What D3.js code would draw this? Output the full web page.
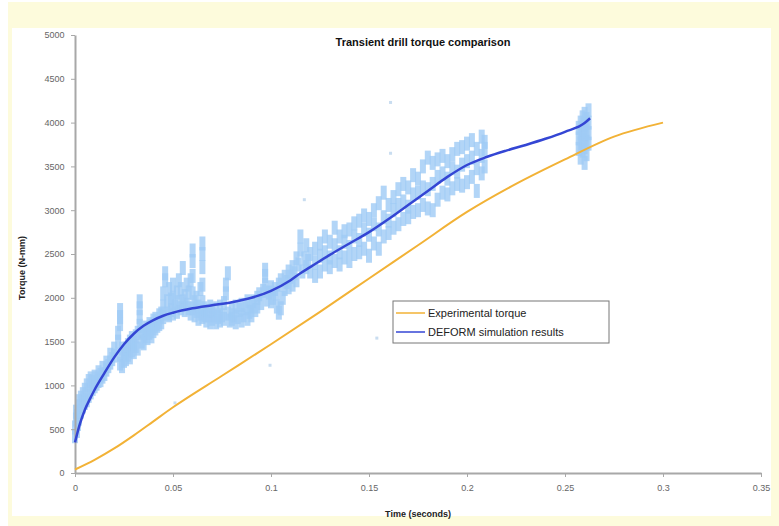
<!DOCTYPE html>
<html>
<head>
<meta charset="utf-8">
<script src="https://cdn.jsdelivr.net/npm/d3@7"></script>
<style>
  body { margin: 0; background: #fff; }
  svg { display: block; font-family: Arial, "Liberation Sans", sans-serif; }
</style>
</head>
<body>
<svg id="chart" width="779" height="526"></svg>
<script>
// ---- data ----
const xTicks = [0, 0.05, 0.1, 0.15, 0.2, 0.25, 0.3, 0.35];
const yTicks = [0, 500, 1000, 1500, 2000, 2500, 3000, 3500, 4000, 4500, 5000];

// experimental torque (orange line)
const expTime   = [0, 0.01, 0.02, 0.03, 0.04, 0.05, 0.075, 0.1, 0.125, 0.15, 0.175, 0.2, 0.225, 0.25, 0.275, 0.3];
const expTorque = [40, 150, 280, 430, 590, 750, 1110, 1470, 1840, 2220, 2600, 2980, 3300, 3580, 3840, 4000];

// DEFORM smoothed result (blue line)
const simTime   = [0, 0.0025, 0.005, 0.0075, 0.01, 0.015, 0.02, 0.025, 0.03, 0.035, 0.04, 0.045, 0.05, 0.06, 0.07, 0.08, 0.09, 0.1, 0.11, 0.115, 0.12, 0.13, 0.14, 0.15, 0.16, 0.17, 0.18, 0.19, 0.2, 0.21, 0.22, 0.23, 0.24, 0.25, 0.26, 0.2628];
const simTorque = [350, 560, 720, 840, 950, 1140, 1320, 1470, 1590, 1680, 1745, 1795, 1830, 1880, 1915, 1950, 2000, 2080, 2200, 2280, 2350, 2490, 2620, 2750, 2900, 3060, 3220, 3380, 3516, 3607, 3680, 3745, 3815, 3895, 3995, 4050];

// raw simulation samples (light blue scatter), [time, torque]
const rawPoints = [
  [0.000,420],[0.000,520],[0.0005,610],[0.0005,700],[0.001,480],[0.001,650],[0.0015,560],[0.0015,760],
  [0.002,620],[0.002,820],[0.003,700],[0.003,860],[0.004,760],[0.004,900],[0.005,800],[0.005,950],
  [0.006,830],[0.006,1000],[0.007,880],[0.007,1050],[0.008,920],[0.008,1080],[0.009,960],[0.009,1040],
  [0.010,990],[0.010,1100],[0.011,1020],[0.011,1080],[0.012,1050],[0.012,1150],[0.013,1060],[0.013,1120],
  [0.014,1100],[0.014,1200],[0.015,1130],[0.016,1180],[0.016,1260],[0.017,1220],[0.018,1260],[0.018,1350],
  [0.019,1300],[0.020,1340],[0.020,1420],
  [0.022,1500],[0.022,1600],[0.023,1700],[0.023,1780],[0.023,1860],[0.023,1250],[0.023,1350],[0.024,1220],[0.024,1420],
  [0.025,1280],[0.025,1380],[0.026,1300],[0.026,1420],[0.027,1350],[0.027,1460],[0.028,1320],[0.028,1500],
  [0.029,1400],[0.029,1540],[0.030,1380],[0.030,1480],[0.031,1450],[0.031,1560],[0.032,1420],[0.032,1600],
  [0.033,1680],[0.033,1780],[0.033,1880],[0.033,1960],[0.034,1500],[0.034,1620],[0.035,1480],[0.035,1600],
  [0.036,1560],[0.036,1660],[0.037,1540],[0.037,1640],[0.038,1600],[0.038,1700],[0.039,1560],[0.039,1680],
  [0.040,1620],[0.040,1740],[0.041,1650],[0.041,1760],[0.042,1680],[0.043,1700],[0.043,1800],[0.044,1720],[0.044,1820],
  [0.045,1780],[0.045,1900],[0.045,2050],[0.046,2200],[0.046,2280],[0.047,1820],[0.047,1960],[0.048,1800],
  [0.048,2100],[0.049,1860],[0.049,1980],[0.050,1820],[0.050,2000],[0.050,2150],[0.051,1900],[0.052,1840],
  [0.052,2060],[0.053,1950],[0.053,2200],[0.054,1880],[0.054,2100],[0.055,1960],[0.055,2340],[0.056,1860],
  [0.056,2020],[0.057,1920],[0.057,2150],[0.058,1880],[0.058,2060],[0.059,1820],[0.059,2200],
  [0.060,1880],[0.060,2050],[0.060,2250],[0.060,2420],[0.060,2540],[0.061,1800],[0.061,1950],[0.062,1850],
  [0.062,2000],[0.063,1760],[0.063,1900],[0.064,1820],[0.064,2100],[0.065,1780],[0.065,1950],[0.065,2150],
  [0.065,2350],[0.065,2500],[0.065,2620],[0.066,1800],[0.066,1880],
  [0.067,1740],[0.067,1850],[0.068,1800],[0.069,1720],[0.069,1900],[0.070,1760],[0.070,1860],[0.071,1800],
  [0.072,1720],[0.072,1880],[0.073,1780],[0.074,1740],[0.074,1900],[0.075,1800],[0.076,1760],[0.076,1940],
  [0.077,2050],[0.077,2150],[0.078,2280],[0.078,1820],[0.079,1740],[0.080,1860],[0.080,1760],[0.081,1800],
  [0.082,1720],[0.082,1900],[0.083,1780],[0.084,1860],[0.085,1740],[0.085,1920],[0.086,1800],[0.087,1880],
  [0.088,1760],[0.088,1960],[0.089,1840],[0.090,1900],[0.090,1800],[0.091,1960],[0.092,1860],[0.093,2000],
  [0.093,1900],[0.094,2040],[0.095,1940],[0.096,2080],
  [0.097,2150],[0.097,2250],[0.097,2320],[0.098,1980],[0.099,2060],[0.100,1960],[0.100,2120],[0.101,2000],
  [0.102,2100],[0.103,1900],[0.103,2050],[0.104,1830],[0.104,2150],[0.105,1880],[0.105,2200],[0.106,2000],
  [0.107,2240],[0.107,2100],[0.108,2180],[0.109,2300],[0.109,2120],[0.110,2240],[0.111,2350],[0.111,2150],
  [0.112,2280],[0.113,2450],[0.113,2200],[0.114,2380],[0.115,2550],[0.115,2700],[0.116,2300],[0.117,2450],
  [0.118,2350],[0.118,2600],[0.119,2420],[0.120,2300],[0.120,2500],
  [0.1225,2250],[0.1225,2400],[0.1225,2560],[0.125,2300],[0.125,2480],[0.125,2620],
  [0.1275,2380],[0.1275,2520],[0.1275,2700],[0.130,2350],[0.130,2460],[0.130,2640],
  [0.1325,2420],[0.1325,2600],[0.1325,2800],[0.135,2380],[0.135,2520],[0.135,2700],
  [0.1375,2460],[0.1375,2640],[0.1375,2760],[0.140,2420],[0.140,2580],[0.140,2780],
  [0.1425,2500],[0.1425,2700],[0.1425,2850],[0.145,2520],[0.145,2660],[0.145,2880],
  [0.1475,2560],[0.1475,2780],[0.1475,2940],[0.150,2480],[0.150,2720],[0.150,2900],
  [0.1525,2620],[0.1525,2840],[0.1525,3000],[0.155,2560],[0.155,2780],[0.155,3080],
  [0.1575,2700],[0.1575,2920],[0.1575,3200],[0.160,2740],[0.160,2880],[0.160,3060],
  [0.1625,2800],[0.1625,3000],[0.1625,3150],[0.165,2840],[0.165,3060],[0.165,3240],
  [0.1675,2900],[0.1675,3100],[0.1675,3300],[0.170,2920],[0.170,3040],[0.170,3260],
  [0.1725,2980],[0.1725,3180],[0.1725,3400],[0.175,3000],[0.175,3200],[0.175,3360],
  [0.1775,3060],[0.1775,3260],[0.1775,3500],[0.180,3020],[0.180,3240],[0.180,3600],
  [0.1825,3000],[0.1825,3300],[0.1825,3540],[0.185,3120],[0.185,3380],[0.185,3580],
  [0.1875,3200],[0.1875,3420],[0.1875,3620],[0.190,3180],[0.190,3360],[0.190,3560],
  [0.1925,3250],[0.1925,3480],[0.1925,3640],[0.195,3300],[0.195,3440],[0.195,3700],
  [0.1975,3280],[0.1975,3520],[0.1975,3720],[0.200,3320],[0.200,3560],[0.200,3760],
  [0.2025,3380],[0.2025,3600],[0.2025,3800],[0.205,3220],[0.205,3480],[0.205,3700],
  [0.2075,3420],[0.2075,3620],[0.2075,3840],[0.209,3500],[0.209,3700],[0.209,3780],
  [0.257,3700],[0.257,3820],[0.257,3940],[0.258,3600],[0.258,3760],[0.258,3880],[0.258,4000],
  [0.259,3680],[0.259,3800],[0.259,3920],[0.259,4060],[0.260,3540],[0.260,3720],[0.260,3860],
  [0.260,3980],[0.260,4100],[0.261,3640],[0.261,3780],[0.261,3900],[0.261,4040],
  [0.262,3760],[0.262,3880],[0.262,4000],[0.262,4140]
];
// a few stray samples far from the band
const strayPoints = [[0.117,3120],[0.161,4230],[0.161,3650],[0.051,800],[0.0995,1230],[0.154,1540]];

const legendItems = [
  { label: "Experimental  torque", color: "#f2b236" },
  { label: "DEFORM simulation results", color: "#3446d4" }
];

// ---- layout ----
const svg = d3.select("#chart");
const W = 779, H = 526;
const plotLeft = 75, plotRight = 761, plotTop = 35, plotBottom = 473;

// frame: pale yellow border around white panel
svg.append("rect").attr("x", 8).attr("y", 2).attr("width", W - 8).attr("height", H - 2).attr("fill", "#fdfbdc");
svg.append("rect").attr("x", 12).attr("y", 28).attr("width", 759).attr("height", 488).attr("fill", "#fff");

const x = d3.scaleLinear().domain([0, 0.35]).range([plotLeft, plotRight]);
const y = d3.scaleLinear().domain([0, 5000]).range([plotBottom, plotTop]);

// scatter
svg.append("g")
  .selectAll("rect")
  .data(rawPoints)
  .join("rect")
  .attr("x", d => x(d[0]) - 3)
  .attr("y", d => y(d[1]) - 7)
  .attr("width", 6)
  .attr("height", 14)
  .attr("fill", "#9fcaf5")
  .attr("opacity", 0.8);

svg.append("g")
  .selectAll("rect")
  .data(strayPoints)
  .join("rect")
  .attr("x", d => x(d[0]) - 1.5)
  .attr("y", d => y(d[1]) - 1.5)
  .attr("width", 3)
  .attr("height", 3)
  .attr("fill", "#c9ddf0");

// axes
const xAxis = svg.append("g")
  .attr("transform", `translate(0,${plotBottom})`)
  .call(d3.axisBottom(x).tickValues(xTicks).tickFormat(d => d === 0 ? "0" : d3.format("~g")(d)).tickSize(4).tickSizeOuter(0));
const yAxis = svg.append("g")
  .attr("transform", `translate(${plotLeft},0)`)
  .call(d3.axisLeft(y).tickValues(yTicks).tickFormat(d3.format("d")).tickSize(4).tickSizeOuter(0));

[xAxis, yAxis].forEach(g => {
  g.select(".domain").attr("stroke", "#a8a8a8").attr("stroke-width", 2);
  g.selectAll(".tick line").attr("stroke", "#a8a8a8");
  g.selectAll(".tick text").attr("fill", "#666").attr("font-size", 9).attr("font-family", "Arial, sans-serif");
});
xAxis.selectAll(".tick text").attr("dy", "1.25em");
yAxis.selectAll(".tick text").attr("dx", "-0.4em");

// lines
const expLine = d3.line().x((d, i) => x(expTime[i])).y(d => y(d)).curve(d3.curveMonotoneX);
const simLine = d3.line().x((d, i) => x(simTime[i])).y(d => y(d)).curve(d3.curveMonotoneX);

svg.append("path").datum(expTorque).attr("d", expLine)
  .attr("fill", "none").attr("stroke", legendItems[0].color).attr("stroke-width", 2);
svg.append("path").datum(simTorque).attr("d", simLine)
  .attr("fill", "none").attr("stroke", legendItems[1].color).attr("stroke-width", 2.5);

// titles
svg.append("text").attr("x", 423).attr("y", 46).attr("text-anchor", "middle")
  .attr("font-size", 11).attr("font-weight", "bold").attr("fill", "#111")
  .text("Transient drill torque comparison");
svg.append("text").attr("x", 418).attr("y", 517).attr("text-anchor", "middle")
  .attr("font-size", 9).attr("font-weight", "bold").attr("fill", "#222")
  .text("Time (seconds)");
svg.append("text").attr("transform", "translate(25,268) rotate(-90)").attr("text-anchor", "middle")
  .attr("font-size", 9).attr("font-weight", "bold").attr("fill", "#222")
  .text("Torque (N-mm)");

// legend
const lg = svg.append("g").attr("transform", "translate(393,301)");
lg.append("rect").attr("width", 216).attr("height", 42).attr("fill", "#fff").attr("stroke", "#777");
legendItems.forEach((d, i) => {
  const yy = 12 + i * 19;
  lg.append("line").attr("x1", 3).attr("x2", 32).attr("y1", yy).attr("y2", yy)
    .attr("stroke", d.color).attr("stroke-width", 1.5);
  lg.append("text").attr("x", 35).attr("y", yy + 4).attr("font-size", 11).attr("fill", "#222").text(d.label);
});
</script>
</body>
</html>
